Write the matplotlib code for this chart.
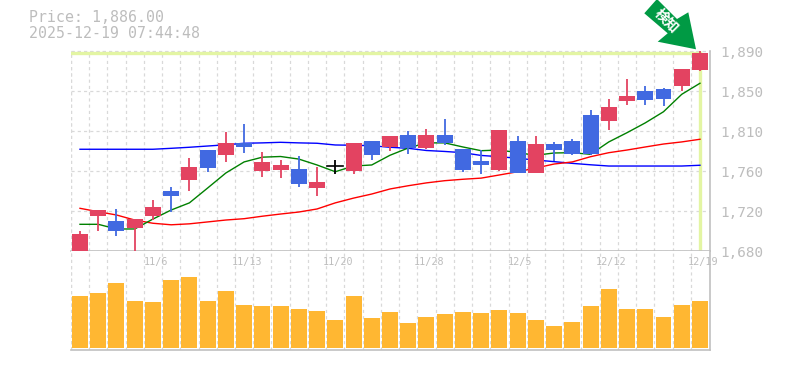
import matplotlib
matplotlib.use('Agg')
import matplotlib.pyplot as plt
from matplotlib.patches import Polygon

open_p = [1679, 1716, 1711, 1703.6, 1716, 1742.5, 1754, 1785.5, 1780, 1793, 1763.5, 1764.5,
          1765.6, 1745.6, 1768.4, 1763.5, 1795, 1788.7, 1801, 1787.6, 1801, 1786.6, 1774, 1764.5,
          1795, 1761, 1792, 1795, 1822, 1816, 1837, 1847.5, 1849.6, 1852.7, 1869.5]
close_p = [1697.3, 1722.5, 1700.5, 1713, 1725.7, 1737, 1767.7, 1766.6, 1793, 1788.7, 1773, 1769.8,
           1749.8, 1752, 1768.4, 1793, 1780, 1800, 1787.6, 1801, 1793, 1764.5, 1769.8, 1806.5,
           1761, 1792, 1785.5, 1781, 1781, 1830.7, 1842, 1838, 1839, 1870.6, 1887]
high_p = [1700.5, 1722.5, 1723.6, 1713, 1733, 1746.7, 1777, 1785.5, 1804.4, 1813, 1783.4, 1775,
          1779, 1767.7, 1775, 1793, 1795, 1800, 1805.5, 1807.6, 1818, 1786.6, 1785.5, 1806.5,
          1800, 1800, 1794, 1797, 1827.5, 1839, 1860, 1852.7, 1850.6, 1870.6, 1890]
low_p = [1679, 1700.5, 1695, 1680, 1712, 1720.4, 1742.5, 1762.4, 1773, 1782, 1757, 1756,
         1746.7, 1737, 1760, 1760, 1775, 1784.5, 1781, 1786.6, 1790.8, 1762.4, 1760, 1763.5,
         1761, 1761, 1774, 1780, 1780, 1806.5, 1832.8, 1832.8, 1831.7, 1847.5, 1868.5]

ma_green = [1707.5, 1707.5, 1702.6, 1702.6, 1713, 1722.5, 1730, 1745.6, 1761.4, 1773, 1778, 1778.7,
            1776, 1769.8, 1762.7, 1768.7, 1769.8, 1780, 1787.6, 1793, 1793, 1788.7, 1784.8, 1785.5,
            1782.7, 1780, 1782.4, 1782.7, 1781, 1794, 1803.7, 1814, 1825.7, 1844, 1855.6]
ma_red = [1724.3, 1720.7, 1717.3, 1712, 1708.6, 1707, 1708, 1710, 1712, 1713.4, 1716, 1718.3,
          1720.4, 1723.6, 1730, 1735, 1739.3, 1744.6, 1748, 1751, 1753.3, 1754.8, 1756, 1759.3,
          1762.7, 1766.6, 1770.8, 1773, 1778.5, 1782.7, 1785.5, 1788.7, 1791.8, 1794, 1796.8]
ma_blue = [1786.3, 1786.3, 1786.3, 1786.3, 1786.3, 1787.3, 1788.4, 1789.7, 1791, 1792.6, 1793, 1793.6,
           1793, 1792.6, 1790.8, 1790.5, 1790, 1788.4, 1787.3, 1785, 1784, 1782.7, 1779.8, 1778.5,
           1776.8, 1775, 1773.3, 1771.5, 1770, 1768.7, 1768.7, 1768.7, 1768.7, 1768.7, 1769.5]

volume = [52, 55, 65, 47, 46, 68, 71, 47, 57, 43, 42, 42, 39, 37, 28, 52, 30, 36,
          25, 31, 34, 36, 35, 38, 35, 28, 22, 26, 42, 59, 39, 39, 31, 43, 47]

date_ticks = [4, 9, 14, 19, 24, 29, 34]
date_labels = ['11/6', '11/13', '11/20', '11/28', '12/5', '12/12', '12/19']
price_ticks = [1890, 1848, 1806, 1764, 1722, 1680]
price_labels = ['1,890', '1,850', '1,810', '1,760', '1,720', '1,680']
last_level = 1887

RED = '#e34361'
BLUE = '#4169e1'
GRID = '#d9d9d9'
AXIS = '#c0c0c0'
TEXT = '#bdbdbd'
W, H = 785, 370

plt.rcParams['font.family'] = ['DejaVu Sans Mono', 'Noto Sans CJK JP']
fig = plt.figure(figsize=(W / 100, H / 100), dpi=100)


def px_axes(left, top, right, bottom):
    return fig.add_axes([left / W, 1 - bottom / H, (right - left) / W, (bottom - top) / H])


ax = px_axes(70.5, 50.5, 710, 250.5)
ax_v = px_axes(70.5, 250.5, 710, 349.5)
xs = list(range(len(open_p)))

for a in (ax, ax_v):
    a.set_xlim(-0.52, 34.55)
    a.set_xticks([x - 0.5 for x in xs])
    a.tick_params(length=0, labelbottom=False, labelleft=False)
    a.grid(axis='x', color=GRID, linestyle=(0, (2.5, 2.5)), linewidth=0.9)
    a.set_axisbelow(True)
    a.spines['top'].set_visible(False)
    a.spines['left'].set_visible(False)
    a.spines['right'].set_color(AXIS)
    a.spines['right'].set_linewidth(1.2)
    a.spines['bottom'].set_color(AXIS)
    a.spines['bottom'].set_linewidth(1.2)

ax.set_ylim(1680, 1890)
ax.set_yticks(price_ticks)
ax.grid(axis='y', color=GRID, linestyle=(0, (2.5, 2.5)), linewidth=0.9)
ax.axvline(-0.5, color=GRID, linestyle=(0, (2.5, 2.5)), linewidth=0.9, zorder=0.5)
ax_v.axvline(-0.5, color=GRID, linestyle=(0, (2.5, 2.5)), linewidth=0.9, zorder=0.5)
ax.axhline(1890, color=GRID, linestyle=(0, (2.5, 2.5)), linewidth=0.9, clip_on=False, zorder=0.5)

# current price marker lines
ax.plot([-0.5, 34], [last_level, last_level], color='#e3f5a3', linewidth=2.4, zorder=1)
ax.plot([34, 34], [last_level, 1680], color='#e3f5a3', linewidth=2.4, zorder=1)

ax.plot(xs, ma_blue, color='#0000ff', linewidth=1.0, zorder=2)
ax.plot(xs, ma_red, color='#ff0000', linewidth=1.0, zorder=2)
ax.plot(xs, ma_green, color='#008000', linewidth=1.0, zorder=2)

for i in xs:
    if close_p[i] == open_p[i]:
        color = 'black'
    elif close_p[i] > open_p[i]:
        color = RED
    else:
        color = BLUE
    ax.plot([i, i], [low_p[i], high_p[i]], color=color, linewidth=1.3, zorder=3,
            solid_capstyle='butt')
    if color == 'black':
        ax.plot([i - 0.44, i + 0.44], [open_p[i], open_p[i]], color=color, linewidth=1.2, zorder=3)
    else:
        ax.bar(i, close_p[i] - open_p[i], bottom=open_p[i], width=0.877, color=color, zorder=3)

ax_v.bar(xs, volume, width=0.877, color='#ffb732', zorder=3)
ax_v.set_ylim(-1.5, 97.5)

for val, label in zip(price_ticks, price_labels):
    ax.annotate(label, xy=(1, val), xycoords=ax.get_yaxis_transform(), xytext=(7.5, -1.8),
                textcoords='offset points', fontsize=10.4, color=TEXT, va='center', ha='left',
                annotation_clip=False, zorder=6)
# volume axes sits on top of the price axes, so the dates go there
for pos, label in zip(date_ticks, date_labels):
    ax_v.annotate(label, xy=(pos, 1), xycoords=ax_v.get_xaxis_transform(), xytext=(2, -8.2),
                  textcoords='offset points', fontsize=7.3, color=TEXT, va='center', ha='center',
                  annotation_clip=False, zorder=6)

fig.text(29 / W, 1 - 18 / H, 'Price: 1,886.00', fontsize=10.7, color=TEXT, va='center', ha='left')
fig.text(29 / W, 1 - 33 / H, '2025-12-19 07:44:48', fontsize=10.7, color=TEXT, va='center', ha='left')

# arrow badge, pixel coords from top left
arrow_px = [(644.3, 13.3), (657, -1), (677, 19), (688.3, 12.3), (696, 49.3), (657.7, 41.7), (667.7, 33.3)]
arrow = Polygon([(x, H - y) for x, y in arrow_px], closed=True, facecolor='#009a44',
                edgecolor='none', transform=None, zorder=5)
fig.add_artist(arrow)
fig.text(666 / W, 1 - 21 / H, '検知', fontsize=10, fontweight='bold', color='white', rotation=-45,
         ha='center', va='center', rotation_mode='anchor', zorder=6,
         family=['Noto Sans CJK JP', 'DejaVu Sans'])

fig.savefig('out.png', dpi=100)
